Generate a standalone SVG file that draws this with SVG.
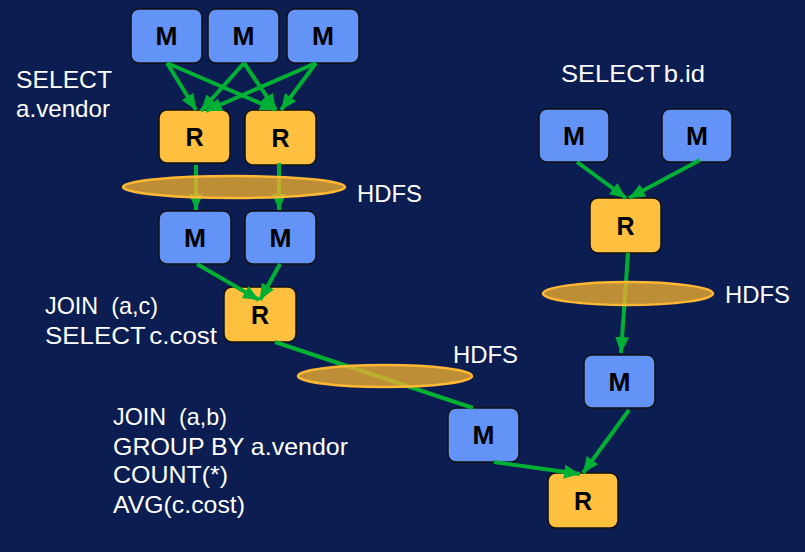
<svg xmlns="http://www.w3.org/2000/svg" width="805" height="552" viewBox="0 0 805 552">
<defs>
<style>
.m{fill:#6393f6;stroke:#111;stroke-width:1.5}
.r{fill:#ffc040;stroke:#111;stroke-width:1.5}
.lt{font-family:"Liberation Sans",Arial,sans-serif;font-size:25px;font-weight:bold;fill:#000;text-anchor:middle}
.t{font-family:"Liberation Sans",Arial,sans-serif;font-size:24px;fill:#fff}
.c{stroke:#00b034;stroke-width:4;fill:none;marker-end:url(#ah)}
.h{fill:#f6b12e;fill-opacity:0.76;stroke:#ffb833;stroke-width:2.5}
</style>
<marker id="ah" markerUnits="userSpaceOnUse" markerWidth="17" markerHeight="17" viewBox="0 0 17 17" refX="16" refY="8.5" orient="auto">
<path d="M0,1.5 L16,8.5 L0,15.5 Z" fill="#00b034"/>
</marker>
</defs>
<rect width="805" height="552" fill="#0c1d51"/>

<g id="n-m1"><rect class="m" x="131" y="9" width="71" height="54" rx="8"/><text class="lt" x="166.5" y="45" textLength="22" lengthAdjust="spacingAndGlyphs">M</text></g>
<g id="n-m2"><rect class="m" x="208" y="9" width="71" height="54" rx="8"/><text class="lt" x="243.5" y="45" textLength="22" lengthAdjust="spacingAndGlyphs">M</text></g>
<g id="n-m3"><rect class="m" x="287" y="9" width="72" height="54" rx="8"/><text class="lt" x="323" y="45" textLength="22" lengthAdjust="spacingAndGlyphs">M</text></g>
<g id="n-r1"><rect class="r" x="159" y="110" width="71" height="53" rx="8"/><text class="lt" x="194.5" y="145.5">R</text></g>
<g id="n-r2"><rect class="r" x="245" y="110" width="71" height="55" rx="8"/><text class="lt" x="280.5" y="146.5">R</text></g>
<g id="n-m4"><rect class="m" x="159" y="211" width="72" height="53" rx="8"/><text class="lt" x="195" y="246.5" textLength="22" lengthAdjust="spacingAndGlyphs">M</text></g>
<g id="n-m5"><rect class="m" x="245" y="211" width="71" height="53" rx="8"/><text class="lt" x="280.5" y="246.5" textLength="22" lengthAdjust="spacingAndGlyphs">M</text></g>
<g id="n-r3"><rect class="r" x="224" y="287" width="72" height="55" rx="8"/><text class="lt" x="260" y="323.5">R</text></g>
<g id="n-m6"><rect class="m" x="448" y="408" width="71" height="54" rx="8"/><text class="lt" x="483.5" y="444" textLength="22" lengthAdjust="spacingAndGlyphs">M</text></g>
<g id="n-m7"><rect class="m" x="539" y="109" width="70" height="53" rx="8"/><text class="lt" x="574" y="144.5" textLength="22" lengthAdjust="spacingAndGlyphs">M</text></g>
<g id="n-m8"><rect class="m" x="662" y="109" width="70" height="53" rx="8"/><text class="lt" x="697" y="144.5" textLength="22" lengthAdjust="spacingAndGlyphs">M</text></g>
<g id="n-r4"><rect class="r" x="590" y="198" width="71" height="55" rx="8"/><text class="lt" x="625.5" y="234.5">R</text></g>
<g id="n-m9"><rect class="m" x="584" y="355" width="71" height="53" rx="8"/><text class="lt" x="619.5" y="390.5" textLength="22" lengthAdjust="spacingAndGlyphs">M</text></g>
<g id="n-r5"><rect class="r" x="548" y="473" width="70" height="55" rx="8"/><text class="lt" x="583" y="509.5">R</text></g>

<g id="connectors">
<line class="c" x1="167" y1="63" x2="196" y2="110"/>
<line class="c" x1="244" y1="63" x2="201" y2="111"/>
<line class="c" x1="316" y1="63" x2="206" y2="111"/>
<line class="c" x1="167" y1="63" x2="276" y2="110"/>
<line class="c" x1="244" y1="63" x2="276" y2="110"/>
<line class="c" x1="316" y1="63" x2="281" y2="110"/>
<line class="c" x1="196" y1="165" x2="196" y2="210"/>
<line class="c" x1="279" y1="163" x2="279" y2="210"/>
<line class="c" x1="197" y1="264" x2="259" y2="300"/>
<line class="c" x1="280" y1="264" x2="260" y2="300"/>
<line x1="275" y1="342" x2="473" y2="408" stroke="#00b034" stroke-width="4"/>
<line class="c" x1="577" y1="162" x2="626" y2="198"/>
<line class="c" x1="700" y1="160" x2="629" y2="198"/>
<line class="c" x1="628" y1="253" x2="621" y2="353"/>
<line class="c" x1="494" y1="462" x2="580" y2="474"/>
<line class="c" x1="629" y1="410" x2="583" y2="473"/>
</g>

<g id="hdfs-stores">
<ellipse class="h" cx="234" cy="187" rx="111" ry="11"/>
<ellipse class="h" cx="385" cy="376" rx="87" ry="11"/>
<ellipse class="h" cx="628" cy="293.5" rx="85" ry="11.5"/>
</g>

<g id="labels">
<text class="t" x="357" y="202" textLength="65" lengthAdjust="spacingAndGlyphs">HDFS</text>
<text class="t" x="453" y="363" textLength="65" lengthAdjust="spacingAndGlyphs">HDFS</text>
<text class="t" x="725" y="303" textLength="65" lengthAdjust="spacingAndGlyphs">HDFS</text>
<text class="t" x="16" y="88" textLength="96" lengthAdjust="spacingAndGlyphs">SELECT</text>
<text class="t" x="16" y="117" textLength="94" lengthAdjust="spacingAndGlyphs">a.vendor</text>
<text class="t" x="561" y="82" word-spacing="-3" textLength="144" lengthAdjust="spacingAndGlyphs">SELECT b.id</text>
<text class="t" x="45" y="314" xml:space="preserve" textLength="113" lengthAdjust="spacingAndGlyphs">JOIN  (a,c)</text>
<text class="t" x="45" y="344" word-spacing="-3" textLength="172" lengthAdjust="spacingAndGlyphs">SELECT c.cost</text>
<text class="t" x="113" y="425" xml:space="preserve" textLength="114" lengthAdjust="spacingAndGlyphs">JOIN  (a,b)</text>
<text class="t" x="113" y="455" textLength="235" lengthAdjust="spacingAndGlyphs">GROUP BY a.vendor</text>
<text class="t" x="113" y="483" textLength="115" lengthAdjust="spacingAndGlyphs">COUNT(*)</text>
<text class="t" x="113" y="513" textLength="132" lengthAdjust="spacingAndGlyphs">AVG(c.cost)</text>
</g>
</svg>
